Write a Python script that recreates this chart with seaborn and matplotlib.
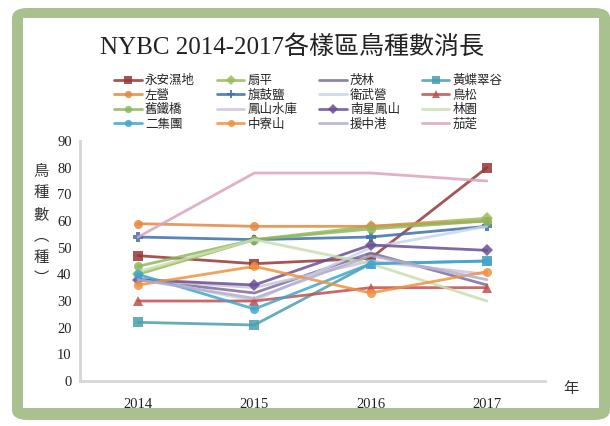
"""
NYBC 2014-2017 bird species count per survey site, redrawn with seaborn.
"""

import numpy as np
import pandas as pd
import matplotlib
matplotlib.use("Agg")
import matplotlib.pyplot as plt
from matplotlib.patches import FancyBboxPatch
import seaborn as sns

years = ["2014", "2015", "2016", "2017"]

sites = [
    "永安濕地", "扇平", "茂林", "黃蝶翠谷",
    "左營", "旗鼓鹽", "衛武營", "鳥松",
    "舊鐵橋", "鳳山水庫", "南星鳳山", "林園",
    "二集團", "中寮山", "援中港", "茄萣",
]

counts = {
    "永安濕地": [47, 44, 46, 80],
    "扇平": [40, 53, 58, 61],
    "茂林": [38, 33, 48, 36],
    "黃蝶翠谷": [22, 21, 44, 45],
    "左營": [59, 58, 58, 60],
    "旗鼓鹽": [54, 53, 54, 58],
    "衛武營": [39, 30, 50, 58],
    "鳥松": [30, 30, 35, 35],
    "舊鐵橋": [43, 53, 57, 60],
    "鳳山水庫": [38, 35, 45, 40],
    "南星鳳山": [38, 36, 51, 49],
    "林園": [41, 53, 44, 30],
    "二集團": [40, 27, 44, 45],
    "中寮山": [36, 43, 33, 41],
    "援中港": [38, 31, 47, 38],
    "茄萣": [54, 78, 78, 75],
}

colors = {
    "永安濕地": "#953735", "扇平": "#9BBB59", "茂林": "#7B6F99", "黃蝶翠谷": "#4A9FAE",
    "左營": "#E3893F", "旗鼓鹽": "#3F6FAA", "衛武營": "#C6D6EA", "鳥松": "#C0504D",
    "舊鐵橋": "#8DB85E", "鳳山水庫": "#CCC3D8", "南星鳳山": "#6A4F96", "林園": "#CADDB0",
    "二集團": "#3FA6CF", "中寮山": "#F0923F", "援中港": "#B5ADCB", "茄萣": "#DBA3BE",
}

markers = {
    "永安濕地": "s", "扇平": "D", "茂林": None, "黃蝶翠谷": "s",
    "左營": "o", "旗鼓鹽": "P", "衛武營": None, "鳥松": "^",
    "舊鐵橋": "o", "鳳山水庫": None, "南星鳳山": "D", "林園": None,
    "二集團": "o", "中寮山": "o", "援中港": None, "茄萣": None,
}

df = pd.DataFrame(
    [(s, y, v) for s in sites for y, v in zip(years, counts[s])],
    columns=["site", "year", "count"],
)

sns.set_style("white")
plt.rcParams["font.family"] = ["Liberation Serif", "Noto Sans CJK TC"]

fig = plt.figure(figsize=(6.10, 4.26), dpi=100)

# green rounded frame behind everything
frame = FancyBboxPatch(
    (12 / 610, 6 / 426), 598 / 610, 412 / 426,
    boxstyle="round,pad=0,rounding_size=0.025",
    transform=fig.transFigure, facecolor="#A9C08F", edgecolor="none", zorder=-5,
)
fig.patches.append(frame)
inner = plt.Rectangle(
    (23 / 610, 18 / 426), 576 / 610, 390 / 426,
    transform=fig.transFigure, facecolor="white", edgecolor="none", zorder=-4,
)
fig.patches.append(inner)

ax = fig.add_axes([80 / 610, 1 - 381 / 426, 465 / 610, 240 / 426])
ax.set_facecolor("none")

for s in sites:
    sub = df[df["site"] == s]
    sns.lineplot(
        data=sub, x="year", y="count", ax=ax, color=colors[s],
        marker=markers[s] if markers[s] else None, markersize=6.5,
        markeredgewidth=0, linewidth=2.0, alpha=0.85, label=s,
    )

ax.set_xlim(-0.5, 3.5)
ax.set_ylim(0, 90)
ax.set_yticks(np.arange(0, 91, 10))
ax.set_xlabel("")
ax.set_ylabel("")
for side in ["top", "right"]:
    ax.spines[side].set_visible(False)
for side in ["left", "bottom"]:
    ax.spines[side].set_color("#D6D6D6")
    ax.spines[side].set_linewidth(2)
ax.tick_params(axis="both", length=0, labelsize=10.5, colors="#222222")
ax.tick_params(axis="x", pad=12)
ax.tick_params(axis="y", pad=6)

# legend reads row by row, matplotlib fills column by column
handles, labels = ax.get_legend_handles_labels()
order = [i + 4 * r for i in range(4) for r in range(4)]
leg = ax.legend(
    [handles[k] for k in order], [labels[k] for k in order],
    ncol=4, frameon=False,
    loc="upper left", bbox_to_anchor=(108 / 610, 1 - 68 / 426),
    bbox_transform=fig.transFigure,
    prop={"family": "Noto Sans CJK TC", "size": 9},
    handlelength=2.2, handletextpad=0.25, columnspacing=1.75,
    labelspacing=0.12, borderpad=0, markerscale=0.8,
)

fig.text(0.479, 1 - 47 / 426, "NYBC 2014-2017各樣區鳥種數消長",
         ha="center", va="center", fontsize=18, color="#222222")

fig.text(41 / 610, 1 - 225 / 426, "鳥\n種\n數\n︵\n種\n︶",
         ha="center", va="center", fontsize=11, linespacing=1.35,
         family=["Noto Sans CJK TC", "DejaVu Sans"], color="#333333")

fig.text(571 / 610, 1 - 388 / 426, "年", ha="center", va="center",
         fontsize=11, family=["Noto Sans CJK TC"], color="#333333")

fig.savefig("out.png", dpi=100)
